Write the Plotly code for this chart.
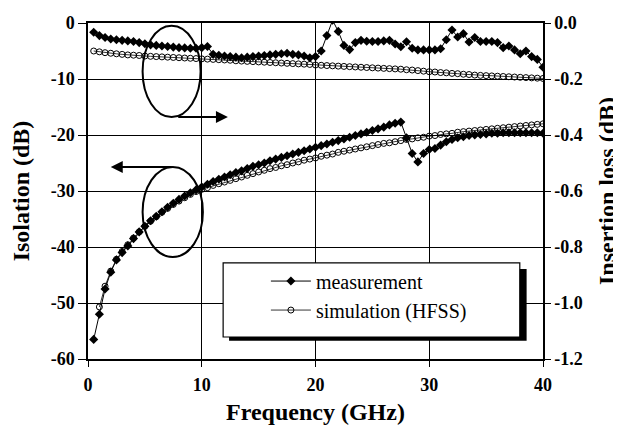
import plotly.graph_objects as go

freq = [0.5, 1.0, 1.5, 2.0, 2.5, 3.0, 3.5, 4.0, 4.5, 5.0, 5.5, 6.0, 6.5, 7.0, 7.5, 8.0, 8.5, 9.0, 9.5, 10.0,
        10.5, 11.0, 11.5, 12.0, 12.5, 13.0, 13.5, 14.0, 14.5, 15.0, 15.5, 16.0, 16.5, 17.0, 17.5, 18.0, 18.5, 19.0, 19.5, 20.0,
        20.5, 21.0, 21.5, 22.0, 22.5, 23.0, 23.5, 24.0, 24.5, 25.0, 25.5, 26.0, 26.5, 27.0, 27.5, 28.0, 28.5, 29.0, 29.5, 30.0,
        30.5, 31.0, 31.5, 32.0, 32.5, 33.0, 33.5, 34.0, 34.5, 35.0, 35.5, 36.0, 36.5, 37.0, 37.5, 38.0, 38.5, 39.0, 39.5, 40.0]

iso_meas = [-56.5, -52.0, -47.5, -44.5, -42.3, -41.0, -39.8, -38.5, -37.3, -36.3, -35.3, -34.5, -33.7, -32.9, -32.2, -31.5, -30.9, -30.3, -29.8, -29.3,
            -28.8, -28.3, -27.9, -27.5, -27.1, -26.7, -26.4, -26.0, -25.6, -25.3, -25.0, -24.6, -24.3, -24.0, -23.7, -23.4, -23.1, -22.8, -22.5, -22.2,
            -21.9, -21.6, -21.3, -21.0, -20.7, -20.4, -20.1, -19.8, -19.5, -19.2, -18.9, -18.6, -18.2, -17.9, -17.7, -20.5, -23.3, -24.8, -23.3, -22.6,
            -22.4, -21.8, -21.2, -20.8, -20.5, -20.3, -20.1, -20.0, -19.9, -19.8, -19.7, -19.7, -19.6, -19.6, -19.6, -19.6, -19.6, -19.6, -19.6, -19.7]

iso_sim = [None, -50.7, -47.0, -44.3, -42.2, -40.8, -39.6, -38.4, -37.3, -36.3, -35.4, -34.6, -33.8, -33.1, -32.4, -31.8, -31.2, -30.6, -30.1, -29.7,
           -29.4, -29.0, -28.7, -28.4, -28.1, -27.8, -27.5, -27.2, -26.9, -26.6, -26.3, -26.0, -25.8, -25.5, -25.3, -25.0, -24.8, -24.5, -24.3, -24.1,
           -23.8, -23.6, -23.4, -23.1, -22.9, -22.7, -22.5, -22.3, -22.1, -21.9, -21.7, -21.5, -21.4, -21.2, -21.0, -20.8, -20.7, -20.5, -20.4, -20.2,
           -20.1, -19.9, -19.8, -19.7, -19.5, -19.4, -19.3, -19.2, -19.1, -19.0, -18.9, -18.8, -18.7, -18.6, -18.5, -18.4, -18.3, -18.2, -18.1, -18.0]

il_meas = [-0.033, -0.045, -0.052, -0.057, -0.060, -0.062, -0.064, -0.066, -0.070, -0.074, -0.078, -0.080, -0.082, -0.084, -0.086, -0.088, -0.089, -0.090, -0.090, -0.088,
           -0.084, -0.112, -0.115, -0.118, -0.120, -0.122, -0.124, -0.122, -0.120, -0.118, -0.116, -0.114, -0.112, -0.110, -0.108, -0.112, -0.114, -0.118, -0.124, -0.120,
           -0.100, -0.045, 0.010, -0.030, -0.080, -0.095, -0.070, -0.062, -0.065, -0.066, -0.066, -0.064, -0.062, -0.075, -0.085, -0.067, -0.090, -0.096, -0.096, -0.096,
           -0.096, -0.092, -0.060, -0.025, -0.050, -0.038, -0.068, -0.052, -0.066, -0.066, -0.066, -0.070, -0.088, -0.082, -0.096, -0.110, -0.100, -0.120, -0.130, -0.158]

il_sim = [-0.100, -0.103, -0.106, -0.108, -0.110, -0.112, -0.114, -0.115, -0.116, -0.118, -0.119, -0.120, -0.121, -0.122, -0.123, -0.124, -0.125, -0.126, -0.127, -0.128,
          -0.129, -0.130, -0.131, -0.132, -0.133, -0.135, -0.136, -0.137, -0.138, -0.139, -0.140, -0.141, -0.142, -0.143, -0.144, -0.145, -0.146, -0.147, -0.148, -0.150,
          -0.151, -0.152, -0.153, -0.154, -0.155, -0.156, -0.157, -0.158, -0.159, -0.160, -0.161, -0.162, -0.163, -0.164, -0.165, -0.167, -0.168, -0.170, -0.172, -0.174,
          -0.175, -0.177, -0.178, -0.180, -0.181, -0.183, -0.184, -0.186, -0.187, -0.188, -0.189, -0.190, -0.191, -0.192, -0.193, -0.194, -0.195, -0.196, -0.197, -0.198]

x_ticks = [0, 10, 20, 30, 40]
x_ticktext = ["0", "10", "20", "30", "40"]
left_ticks = [0, -10, -20, -30, -40, -50, -60]
left_ticktext = ["0", "-10", "-20", "-30", "-40", "-50", "-60"]
right_ticks = [0.0, -0.2, -0.4, -0.6, -0.8, -1.0, -1.2]
right_ticktext = ["0.0", "-0.2", "-0.4", "-0.6", "-0.8", "-1.0", "-1.2"]

SERIF = "Liberation Serif"
meas_style = dict(mode="lines+markers", line=dict(color="black", width=1),
                  marker=dict(symbol="diamond", size=7, color="black"))
sim_style = dict(mode="lines+markers", line=dict(color="black", width=0.8),
                 marker=dict(symbol="circle-open", size=6, color="black", line=dict(width=1)))

fig = go.Figure()
fig.add_trace(go.Scatter(x=freq, y=iso_meas, name="measurement", legendrank=1, **meas_style))
fig.add_trace(go.Scatter(x=freq, y=iso_sim, name="simulation (HFSS)", legendrank=2, **sim_style))
fig.add_trace(go.Scatter(x=freq, y=il_meas, yaxis="y2", showlegend=False, **meas_style))
fig.add_trace(go.Scatter(x=freq, y=il_sim, yaxis="y2", showlegend=False, **sim_style))

tickfont = dict(family=SERIF, size=18, color="black", weight="bold")
titlefont = dict(family=SERIF, size=24, color="black", weight="bold")

# the page body adds an 8px margin, so the figure is 8px smaller and the margins are trimmed accordingly
fig.update_layout(
    width=613, height=417,
    margin=dict(l=80, r=78, t=15, b=66),
    paper_bgcolor="white", plot_bgcolor="white",
    xaxis=dict(range=[0, 40], tickvals=x_ticks, ticktext=x_ticktext, showgrid=True, gridcolor="black", gridwidth=1,
               showline=True, linecolor="black", linewidth=1.5, mirror=True, ticks="outside", ticklen=6,
               tickcolor="black", tickfont=tickfont, zeroline=False, automargin=False, ticklabelstandoff=3,
               title=dict(text="Frequency (GHz)", font=titlefont, standoff=10)),
    yaxis=dict(range=[-60, 0], tickvals=left_ticks, ticktext=left_ticktext, showgrid=True, gridcolor="black", gridwidth=1,
               showline=True, linecolor="black", linewidth=1.5, ticks="outside", ticklen=8, tickcolor="black",
               tickfont=tickfont, zeroline=False, automargin=False,
               title=dict(text="Isolation (dB)", font=titlefont, standoff=14)),
    yaxis2=dict(range=[-1.2, 0], overlaying="y", side="right", tickvals=right_ticks, ticktext=right_ticktext,
                showgrid=False, showline=True, linecolor="black", linewidth=1.5, ticks="outside", ticklen=6,
                tickcolor="black", tickfont=tickfont, zeroline=False, automargin=False,
                title=dict(text="Insertion loss (dB)", font=titlefont, standoff=16)),
    showlegend=True,
    legend=dict(x=0.391, y=0.29, xanchor="left", yanchor="top", bgcolor="rgba(0,0,0,0)", borderwidth=0,
                font=dict(family=SERIF, size=20, color="black"), tracegroupgap=0, itemwidth=40),
    shapes=[
        dict(type="rect", xref="paper", yref="paper", x0=0.31, x1=0.964, y0=0.054, y1=0.268,
             fillcolor="black", line=dict(width=0), layer="above"),
        dict(type="rect", xref="paper", yref="paper", x0=0.297, x1=0.949, y0=0.0655, y1=0.286,
             fillcolor="white", line=dict(color="black", width=1.2), layer="above"),
        dict(type="circle", xref="x", yref="y", x0=4.8, x1=9.9, y0=-16.8, y1=-0.5,
             line=dict(color="black", width=2), layer="above"),
        dict(type="circle", xref="x", yref="y", x0=4.8, x1=10.1, y0=-41.8, y1=-25.7,
             line=dict(color="black", width=2), layer="above"),
    ],
    annotations=[
        dict(x=12.3, y=-16.8, ax=7.8, ay=-16.8, xref="x", yref="y", axref="x", ayref="y", text="",
             showarrow=True, arrowhead=2, arrowsize=1.2, arrowwidth=2, arrowcolor="black"),
        dict(x=2.0, y=-25.7, ax=7.5, ay=-25.7, xref="x", yref="y", axref="x", ayref="y", text="",
             showarrow=True, arrowhead=2, arrowsize=1.2, arrowwidth=2, arrowcolor="black"),
    ],
)

fig.write_html("out.html")
